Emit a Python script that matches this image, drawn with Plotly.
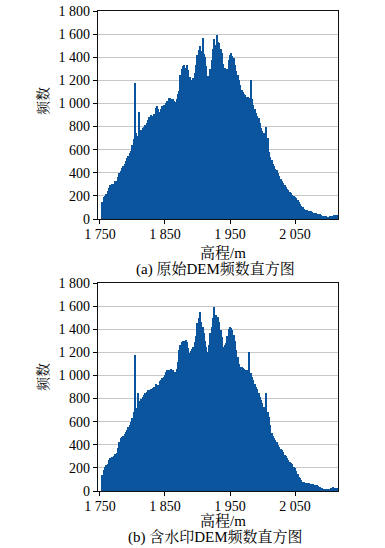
import numpy as np
import plotly.graph_objects as go

# ---- data -------------------------------------------------------------
bin_start = 1753          # lower edge of first bin (m)
bin_width = 2             # bin width (m)

# frequency counts, original DEM (2 m bins, 1754 ... 2116)
counts_original = [
    150, 190, 200, 215, 240, 270, 295, 300, 285, 300,
    325, 330, 360, 395, 415, 440, 455, 475, 500, 525,
    545, 575, 585, 640, 690, 1174, 740, 720, 930, 760,
    770, 790, 795, 810, 835, 860, 880, 900, 890, 880,
    905, 960, 975, 950, 930, 950, 975, 990, 985, 1005,
    1020, 1045, 1050, 1035, 1040, 1025, 1015, 1040, 1080, 1110,
    1250, 1300, 1320, 1335, 1310, 1330, 1290, 1230, 1200, 1180,
    1220, 1260, 1330, 1420, 1460, 1500, 1450, 1565, 1430, 1400,
    1320, 1240, 1230, 1300, 1380, 1470, 1560, 1510, 1590, 1530,
    1520, 1470, 1440, 1340, 1310, 1290, 1300, 1380, 1420, 1440,
    1410, 1390, 1330, 1280, 1250, 1200, 1160, 1120, 1100, 1080,
    1075, 1060, 1060, 1050, 1200, 1040, 990, 950, 920, 890,
    870, 830, 790, 760, 740, 720, 800, 700, 580, 540,
    510, 480, 455, 435, 420, 395, 370, 345, 325, 310,
    290, 275, 260, 248, 236, 222, 210, 198, 188, 180,
    165, 150, 130, 115, 100, 90, 80, 75, 72, 70,
    68, 62, 55, 50, 48, 45, 42, 40, 35, 30,
    28, 25, 22, 20, 20, 22, 25, 30, 35, 38,
    35, 30,
]

# frequency counts, watermarked DEM
counts_watermarked = [
    140, 185, 205, 225, 235, 265, 285, 290, 285, 300,
    320, 330, 370, 420, 455, 465, 480, 495, 510, 530,
    550, 570, 600, 630, 680, 1177, 720, 845, 740, 780,
    800, 810, 830, 845, 860, 870, 874, 880, 885, 895,
    900, 930, 905, 920, 950, 960, 975, 990, 1000, 1030,
    1047, 1050, 1040, 1060, 1045, 1018, 1030, 1060, 1120, 1220,
    1260, 1292, 1300, 1295, 1306, 1290, 1240, 1191, 1210, 1230,
    1249, 1290, 1340, 1451, 1500, 1552, 1460, 1420, 1364, 1300,
    1250, 1205, 1260, 1364, 1420, 1500, 1595, 1520, 1508, 1508,
    1460, 1393, 1330, 1249, 1260, 1278, 1340, 1400, 1422, 1410,
    1393, 1350, 1300, 1220, 1160, 1100, 1076, 1070, 1062, 1055,
    1050, 1047, 1040, 1205, 1020, 989, 960, 930, 903, 880,
    850, 816, 790, 760, 730, 720, 845, 680, 643, 570,
    499, 480, 460, 442, 420, 400, 380, 365, 355, 335,
    315, 300, 285, 268, 255, 240, 230, 210, 195, 170,
    150, 124, 110, 95, 81, 75, 72, 70, 68, 66,
    64, 60, 58, 55, 52, 48, 42, 35, 28, 23,
    20, 18, 15, 14, 15, 20, 28, 37, 30, 25,
    23, 30,
]

x_tickvals = [1750, 1850, 1950, 2050]
x_ticktext = ["1 750", "1 850", "1 950", "2 050"]
y_tickvals = [0, 200, 400, 600, 800, 1000, 1200, 1400, 1600, 1800]
y_ticktext = ["0", "200", "400", "600", "800", "1 000", "1 200", "1 400", "1 600", "1 800"]

x_title = "高程/m"
y_title = "频数"
captions = ["(a) 原始DEM频数直方图", "(b) 含水印DEM频数直方图"]

# ---- figure -----------------------------------------------------------
W, H = 385, 548
FONT = "Liberation Serif, Noto Serif CJK SC, Noto Sans CJK SC"
BAR = "#0b559f"

centers = bin_start + bin_width / 2 + bin_width * np.arange(len(counts_original))

fig = go.Figure()
fig.add_trace(go.Bar(x=centers, y=counts_original, width=bin_width,
                     marker=dict(color=BAR, line=dict(width=0)),
                     xaxis="x", yaxis="y", showlegend=False))
fig.add_trace(go.Bar(x=centers, y=counts_watermarked, width=bin_width,
                     marker=dict(color=BAR, line=dict(width=0)),
                     xaxis="x2", yaxis="y2", showlegend=False))

def px_x(p):
    return p / W

def px_y(p):
    return 1 - p / H

xdom = [px_x(98), px_x(338)]
top_dom = [px_y(219), px_y(11)]
bot_dom = [px_y(491), px_y(283)]

xa = dict(range=[1747, 2116], tickvals=x_tickvals, ticktext=x_ticktext,
          ticks="outside", ticklen=4, tickcolor="#000", tickwidth=1,
          ticklabelstandoff=-2,
          showline=True, linecolor="#111", linewidth=1.4, mirror=True,
          showgrid=False, zeroline=False, domain=xdom, automargin=False,
          tickfont=dict(family=FONT, size=14, color="#000"))
ya = dict(range=[0, 1800], tickvals=y_tickvals, ticktext=y_ticktext,
          ticks="outside", ticklen=4, tickcolor="#000", tickwidth=1,
          showline=True, linecolor="#111", linewidth=1.4, mirror=True,
          showgrid=True, gridcolor="#c8c8c8", gridwidth=1, zeroline=False,
          automargin=False,
          tickfont=dict(family=FONT, size=14, color="#000"))

fig.update_layout(
    width=W, height=H,
    margin=dict(l=0, r=0, t=0, b=0),
    paper_bgcolor="white", plot_bgcolor="white",
    bargap=0,
    xaxis=dict(xa, anchor="y"),
    yaxis=dict(ya, anchor="x", domain=top_dom),
    xaxis2=dict(xa, anchor="y2"),
    yaxis2=dict(ya, anchor="x2", domain=bot_dom),
    font=dict(family=FONT, color="#000"),
)

ann = []
for (xt_y, yt_y) in [(252, 101), (520, 377)]:
    ann.append(dict(text=x_title, x=px_x(223), y=px_y(xt_y), xref="paper", yref="paper",
                    showarrow=False, xanchor="center", yanchor="middle",
                    font=dict(family=FONT, size=15, color="#000")))
    ann.append(dict(text=y_title, x=px_x(43), y=px_y(yt_y), xref="paper", yref="paper",
                    showarrow=False, xanchor="center", yanchor="middle", textangle=-90,
                    font=dict(family=FONT, size=14, color="#000")))
for cap, cy in zip(captions, [269, 537]):
    ann.append(dict(text=cap, x=px_x(215), y=px_y(cy), xref="paper", yref="paper",
                    showarrow=False, xanchor="center", yanchor="middle",
                    font=dict(family=FONT, size=15, color="#000")))
fig.update_layout(annotations=ann)

fig.write_html("out.html")
